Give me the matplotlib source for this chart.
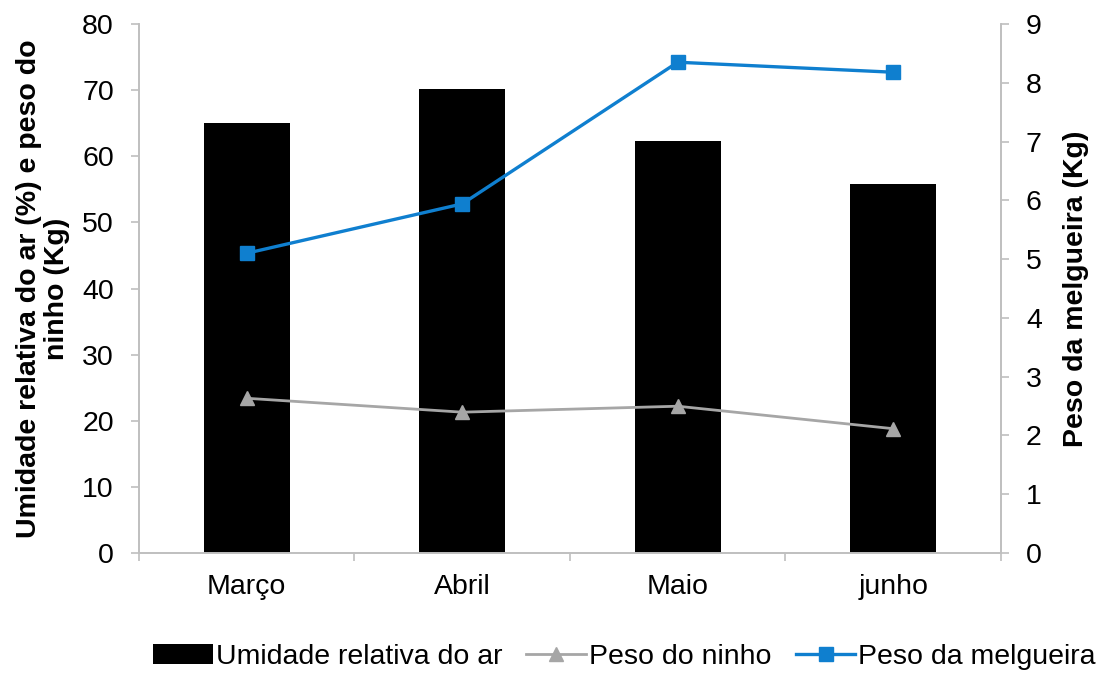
import numpy as np
import matplotlib.pyplot as plt
from matplotlib.ticker import FixedLocator

plt.rcParams['font.family'] = ['Liberation Sans', 'DejaVu Sans']

meses = ['Março', 'Abril', 'Maio', 'junho']
umidade = [65.0, 70.2, 62.3, 55.8]      # umidade relativa do ar (%)
peso_ninho = [23.4, 21.3, 22.2, 18.8]   # kg
peso_melgueira = [5.10, 5.94, 8.35, 8.18]  # kg

cinza_eixo = '#bfbfbf'
azul = '#0f7fcf'
cinza = '#a6a6a6'
fs = 20.5

fig = plt.figure(figsize=(11.09, 6.73), dpi=100)
ax = fig.add_axes([0.1253, 0.1783, 0.7773, 0.786])
ax2 = ax.twinx()

x = np.arange(len(meses))
barras = ax.bar(x, umidade, width=0.40, color='black', zorder=2,
                label='Umidade relativa do ar')
l_ninho, = ax.plot(x, peso_ninho, color=cinza, lw=2.0, marker='^', ms=10,
                   zorder=3, label='Peso do ninho')
l_mel, = ax2.plot(x, peso_melgueira, color=azul, lw=2.4, marker='s', ms=9.5,
                  zorder=3, label='Peso da melgueira')

ax.set_xlim(-0.5, 3.5)
ax.set_ylim(0, 80)
ax2.set_ylim(0, 9)
ax.set_yticks(range(0, 81, 10))
ax2.set_yticks(range(0, 10))

ax.set_xticks(x)
ax.set_xticklabels(meses, fontsize=fs)
ax.xaxis.set_minor_locator(FixedLocator(np.arange(-0.5, 3.6, 1)))
ax.tick_params(axis='x', which='major', length=0, pad=15)
ax.tick_params(axis='x', which='minor', length=6, color=cinza_eixo, width=1.2)
ax.tick_params(axis='y', labelsize=fs, length=6, color=cinza_eixo, width=1.2, pad=12)
ax2.tick_params(axis='y', labelsize=fs, length=6, color=cinza_eixo, width=1.2, pad=12)

for a in (ax, ax2):
    for s in a.spines.values():
        s.set_color(cinza_eixo)
        s.set_linewidth(1.2)
    a.spines['top'].set_visible(False)

ax.set_ylabel('Umidade relativa do ar (%) e peso do\nninho (Kg)', fontsize=fs,
              fontweight='bold', labelpad=9, linespacing=1.08)
ax2.set_ylabel('Peso da melgueira (Kg)', fontsize=fs, fontweight='bold',
               rotation=90, labelpad=15)

fig.legend(handles=[barras, l_ninho, l_mel], loc='center',
           bbox_to_anchor=(0.563, 0.024), ncol=3, frameon=False, fontsize=fs,
           handlelength=2.1, handletextpad=0.1, columnspacing=0.85,
           borderaxespad=0, borderpad=0)

fig.savefig('out.png', dpi=100)
